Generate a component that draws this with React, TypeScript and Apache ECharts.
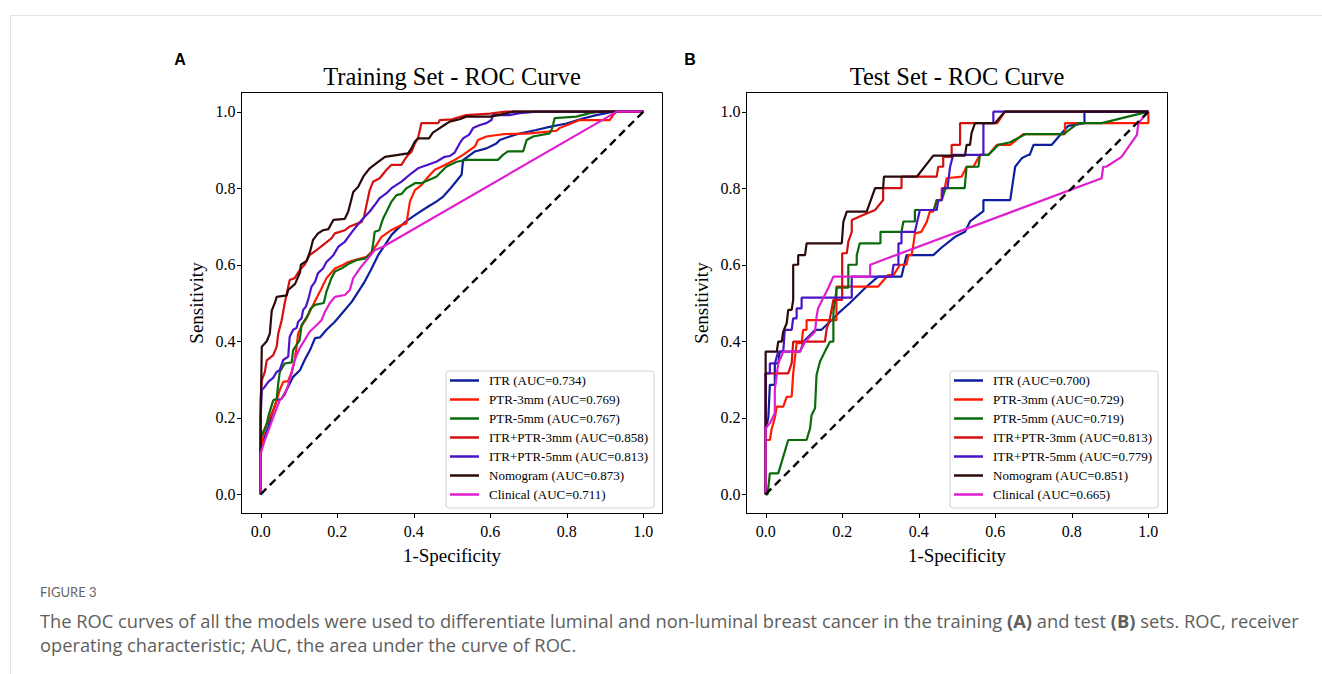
import React, { useEffect, useRef } from "react";
import * as echarts from "echarts";

// ---------- labels ----------
const modelColors = ["#0d1f9e", "#ff1a00", "#0b6b0b", "#d41010", "#4a14c8", "#2b0a0a", "#e01ecf"];
const trainLabels = [
  "ITR (AUC=0.734)",
  "PTR-3mm (AUC=0.769)",
  "PTR-5mm (AUC=0.767)",
  "ITR+PTR-3mm (AUC=0.858)",
  "ITR+PTR-5mm (AUC=0.813)",
  "Nomogram (AUC=0.873)",
  "Clinical (AUC=0.711)",
];
const testLabels = [
  "ITR (AUC=0.700)",
  "PTR-3mm (AUC=0.729)",
  "PTR-5mm (AUC=0.719)",
  "ITR+PTR-3mm (AUC=0.813)",
  "ITR+PTR-5mm (AUC=0.779)",
  "Nomogram (AUC=0.851)",
  "Clinical (AUC=0.665)",
];
const tickValues = [0, 0.2, 0.4, 0.6, 0.8, 1.0];
const diagonal = [[0, 0], [1, 1]];

// ---------- training set ROC points [1-specificity, sensitivity] ----------
const trainITR = [[0,0],[0,0.124],[0.011,0.15],[0.02,0.177],[0.029,0.207],[0.042,0.246],[0.055,0.25],[0.068,0.273],[0.085,0.307],[0.103,0.325],[0.115,0.351],[0.129,0.377],[0.142,0.408],[0.155,0.41],[0.172,0.43],[0.194,0.451],[0.216,0.477],[0.238,0.503],[0.272,0.556],[0.29,0.59],[0.307,0.625],[0.325,0.652],[0.342,0.678],[0.359,0.695],[0.385,0.717],[0.411,0.735],[0.438,0.752],[0.459,0.765],[0.477,0.778],[0.494,0.797],[0.507,0.813],[0.525,0.835],[0.529,0.874],[0.538,0.88],[0.56,0.896],[0.59,0.904],[0.616,0.917],[0.625,0.926],[0.651,0.935],[0.677,0.943],[0.72,0.952],[0.755,0.96],[0.799,0.969],[0.842,0.982],[0.877,0.991],[0.903,0.996],[0.92,1.0],[1,1]];
const trainPTR3 = [[0,0],[0,0.1],[0.005,0.15],[0.016,0.185],[0.024,0.2],[0.033,0.22],[0.042,0.246],[0.05,0.273],[0.059,0.294],[0.072,0.296],[0.081,0.32],[0.089,0.351],[0.094,0.386],[0.098,0.42],[0.107,0.44],[0.12,0.46],[0.137,0.495],[0.159,0.538],[0.172,0.565],[0.194,0.59],[0.216,0.6],[0.229,0.607],[0.246,0.612],[0.277,0.621],[0.29,0.634],[0.303,0.652],[0.316,0.673],[0.329,0.682],[0.342,0.691],[0.368,0.704],[0.381,0.708],[0.39,0.765],[0.403,0.795],[0.42,0.808],[0.438,0.83],[0.455,0.848],[0.472,0.856],[0.49,0.865],[0.507,0.874],[0.529,0.887],[0.56,0.909],[0.568,0.926],[0.59,0.935],[0.633,0.941],[0.703,0.943],[0.773,0.95],[0.781,0.957],[0.834,0.978],[0.912,0.978],[0.921,0.991],[0.93,1.0],[1,1]];
const trainPTR5 = [[0,0],[0,0.15],[0.01,0.17],[0.016,0.185],[0.02,0.203],[0.025,0.22],[0.033,0.246],[0.042,0.25],[0.046,0.29],[0.05,0.32],[0.063,0.342],[0.081,0.345],[0.085,0.377],[0.102,0.403],[0.107,0.442],[0.115,0.455],[0.124,0.469],[0.13,0.485],[0.142,0.495],[0.165,0.5],[0.172,0.53],[0.185,0.565],[0.194,0.582],[0.211,0.59],[0.233,0.604],[0.25,0.612],[0.272,0.616],[0.29,0.63],[0.294,0.656],[0.298,0.686],[0.31,0.69],[0.32,0.721],[0.333,0.747],[0.342,0.765],[0.355,0.782],[0.368,0.785],[0.381,0.8],[0.39,0.805],[0.403,0.813],[0.42,0.813],[0.438,0.821],[0.459,0.83],[0.472,0.843],[0.485,0.856],[0.512,0.869],[0.538,0.874],[0.62,0.874],[0.633,0.887],[0.646,0.896],[0.686,0.896],[0.695,0.926],[0.712,0.935],[0.755,0.943],[0.76,0.952],[0.764,0.965],[0.768,0.983],[0.825,0.987],[0.86,0.996],[0.886,1.0],[1,1]];
const trainITRPTR3 = [[0,0],[0,0.25],[0.003,0.298],[0.011,0.32],[0.016,0.35],[0.033,0.364],[0.042,0.386],[0.046,0.42],[0.055,0.455],[0.063,0.5],[0.076,0.56],[0.089,0.565],[0.102,0.586],[0.115,0.6],[0.128,0.625],[0.146,0.638],[0.185,0.669],[0.194,0.682],[0.22,0.69],[0.233,0.7],[0.264,0.712],[0.27,0.725],[0.285,0.795],[0.294,0.817],[0.311,0.826],[0.329,0.848],[0.342,0.861],[0.368,0.861],[0.376,0.874],[0.385,0.887],[0.394,0.895],[0.403,0.917],[0.411,0.93],[0.416,0.952],[0.42,0.97],[0.464,0.97],[0.468,0.978],[0.5,0.98],[0.537,0.991],[0.6,0.995],[0.64,1.0],[1,1]];
const trainITRPTR5 = [[0,0],[0,0.2],[0.003,0.273],[0.01,0.28],[0.02,0.294],[0.033,0.305],[0.042,0.32],[0.05,0.325],[0.059,0.351],[0.072,0.36],[0.076,0.412],[0.085,0.43],[0.094,0.435],[0.098,0.451],[0.107,0.46],[0.111,0.482],[0.118,0.49],[0.124,0.508],[0.133,0.543],[0.142,0.555],[0.15,0.578],[0.163,0.59],[0.172,0.607],[0.19,0.625],[0.203,0.647],[0.22,0.66],[0.233,0.678],[0.246,0.695],[0.264,0.717],[0.285,0.739],[0.298,0.756],[0.311,0.774],[0.329,0.787],[0.342,0.8],[0.368,0.817],[0.394,0.839],[0.411,0.852],[0.437,0.861],[0.459,0.869],[0.481,0.882],[0.494,0.884],[0.507,0.893],[0.52,0.917],[0.529,0.93],[0.545,0.94],[0.555,0.957],[0.573,0.965],[0.59,0.97],[0.603,0.978],[0.607,0.991],[0.65,0.991],[0.677,0.996],[0.72,1.0],[1,1]];
const trainNomogram = [[0,0],[0,0.2],[0.002,0.32],[0.003,0.386],[0.016,0.4],[0.024,0.42],[0.029,0.48],[0.037,0.5],[0.042,0.516],[0.068,0.52],[0.072,0.534],[0.09,0.55],[0.103,0.58],[0.105,0.6],[0.12,0.61],[0.129,0.634],[0.137,0.665],[0.15,0.682],[0.163,0.69],[0.177,0.693],[0.19,0.717],[0.22,0.72],[0.229,0.739],[0.242,0.79],[0.255,0.804],[0.268,0.83],[0.285,0.852],[0.307,0.869],[0.325,0.882],[0.359,0.887],[0.385,0.891],[0.394,0.904],[0.403,0.922],[0.411,0.93],[0.44,0.93],[0.45,0.945],[0.465,0.955],[0.48,0.965],[0.494,0.974],[0.52,0.98],[0.537,0.987],[0.6,0.987],[0.64,0.995],[0.66,1.0],[1,1]];
const trainClinical = [[0,0],[0,0.107],[0.011,0.142],[0.024,0.177],[0.037,0.212],[0.05,0.246],[0.063,0.26],[0.072,0.286],[0.081,0.316],[0.089,0.351],[0.102,0.382],[0.115,0.403],[0.128,0.425],[0.146,0.442],[0.159,0.455],[0.168,0.477],[0.181,0.5],[0.194,0.516],[0.22,0.521],[0.233,0.534],[0.242,0.565],[0.259,0.59],[0.277,0.612],[0.298,0.638],[0.32,0.647],[0.905,0.985],[0.93,1.0],[1,1]];

// ---------- test set ROC points ----------
const testITR = [[0,0],[0,0.17],[0.007,0.2],[0.011,0.286],[0.024,0.286],[0.024,0.342],[0.033,0.342],[0.037,0.373],[0.09,0.373],[0.1,0.4],[0.13,0.43],[0.146,0.43],[0.172,0.455],[0.194,0.477],[0.22,0.5],[0.264,0.543],[0.294,0.569],[0.355,0.569],[0.368,0.625],[0.438,0.625],[0.46,0.645],[0.495,0.673],[0.521,0.686],[0.534,0.713],[0.569,0.74],[0.569,0.769],[0.639,0.769],[0.652,0.856],[0.669,0.878],[0.686,0.887],[0.69,0.887],[0.7,0.913],[0.747,0.913],[0.774,0.944],[0.791,0.963],[0.833,0.97],[0.833,1.0],[1,1]];
const testPTR3 = [[0,0],[0,0.142],[0.011,0.142],[0.016,0.172],[0.024,0.2],[0.029,0.229],[0.046,0.229],[0.055,0.255],[0.068,0.255],[0.072,0.316],[0.077,0.36],[0.081,0.395],[0.094,0.395],[0.098,0.43],[0.107,0.43],[0.107,0.455],[0.185,0.455],[0.185,0.543],[0.294,0.543],[0.32,0.573],[0.334,0.573],[0.351,0.6],[0.368,0.6],[0.373,0.625],[0.381,0.625],[0.386,0.652],[0.39,0.682],[0.407,0.686],[0.421,0.712],[0.429,0.739],[0.438,0.739],[0.447,0.769],[0.46,0.769],[0.46,0.8],[0.468,0.8],[0.473,0.826],[0.512,0.83],[0.525,0.856],[0.543,0.856],[0.56,0.887],[0.582,0.887],[0.604,0.913],[0.639,0.913],[0.673,0.941],[0.782,0.941],[0.782,0.97],[1.0,0.97],[1,1]];
const testPTR5 = [[0,0],[0.005,0],[0.011,0.055],[0.033,0.055],[0.059,0.142],[0.107,0.142],[0.116,0.172],[0.12,0.207],[0.129,0.225],[0.133,0.312],[0.142,0.347],[0.155,0.373],[0.168,0.399],[0.177,0.399],[0.177,0.477],[0.186,0.54],[0.216,0.54],[0.216,0.6],[0.238,0.6],[0.238,0.625],[0.246,0.656],[0.3,0.656],[0.3,0.686],[0.355,0.686],[0.36,0.713],[0.39,0.713],[0.39,0.743],[0.44,0.743],[0.447,0.769],[0.46,0.769],[0.47,0.8],[0.52,0.8],[0.525,0.856],[0.556,0.856],[0.56,0.887],[0.582,0.887],[0.608,0.913],[0.639,0.92],[0.678,0.941],[0.778,0.941],[0.817,0.97],[0.878,0.97],[1,1]];
const testITRPTR3 = [[0,0],[0,0.316],[0.059,0.316],[0.068,0.342],[0.072,0.399],[0.155,0.399],[0.159,0.43],[0.168,0.46],[0.177,0.508],[0.2,0.508],[0.2,0.63],[0.212,0.63],[0.216,0.66],[0.225,0.686],[0.225,0.717],[0.255,0.73],[0.286,0.743],[0.307,0.769],[0.307,0.8],[0.355,0.8],[0.355,0.83],[0.447,0.83],[0.451,0.856],[0.464,0.856],[0.464,0.882],[0.486,0.882],[0.486,0.913],[0.508,0.913],[0.508,0.97],[0.605,0.97],[0.625,1.0],[1,1]];
const testITRPTR5 = [[0,0],[0,0.316],[0.011,0.316],[0.011,0.342],[0.024,0.342],[0.033,0.373],[0.046,0.373],[0.05,0.43],[0.068,0.43],[0.072,0.46],[0.081,0.46],[0.081,0.486],[0.094,0.486],[0.094,0.514],[0.225,0.514],[0.225,0.569],[0.33,0.569],[0.334,0.6],[0.347,0.6],[0.347,0.656],[0.355,0.656],[0.355,0.686],[0.39,0.686],[0.403,0.743],[0.447,0.743],[0.451,0.769],[0.46,0.769],[0.464,0.8],[0.475,0.8],[0.482,0.856],[0.49,0.887],[0.569,0.887],[0.569,0.97],[0.595,0.97],[0.595,1.0],[1,1]];
const testNomogram = [[0,0],[0,0.373],[0.029,0.373],[0.033,0.399],[0.042,0.399],[0.046,0.425],[0.055,0.447],[0.059,0.482],[0.068,0.482],[0.072,0.508],[0.072,0.6],[0.085,0.6],[0.085,0.625],[0.103,0.625],[0.107,0.656],[0.199,0.656],[0.203,0.712],[0.212,0.739],[0.264,0.739],[0.286,0.8],[0.307,0.8],[0.309,0.83],[0.395,0.83],[0.438,0.885],[0.521,0.885],[0.525,0.913],[0.534,0.913],[0.538,0.944],[0.547,0.97],[0.599,0.97],[0.625,1.0],[1,1]];
const testClinical = [[0,0],[0,0.172],[0.011,0.186],[0.024,0.212],[0.024,0.273],[0.029,0.312],[0.033,0.342],[0.046,0.373],[0.09,0.373],[0.103,0.399],[0.129,0.425],[0.133,0.464],[0.137,0.486],[0.164,0.54],[0.177,0.569],[0.273,0.569],[0.273,0.6],[0.878,0.826],[0.882,0.856],[0.89,0.856],[0.93,0.882],[0.97,0.939],[0.974,0.97],[1,1]];

const trainCurves = [trainITR, trainPTR3, trainPTR5, trainITRPTR3, trainITRPTR5, trainNomogram, trainClinical];
const testCurves = [testITR, testPTR3, testPTR5, testITRPTR3, testITRPTR5, testNomogram, testClinical];

const SERIF = "'Liberation Serif', 'Times New Roman', serif";
const SANS = "'Open Sans', Lato, sans-serif";
const AXIS_MIN = -0.05;
const AXIS_MAX = 1.05;

function makeAxis(gridIndex: number, margin: number) {
  return {
    type: "value",
    gridIndex,
    min: AXIS_MIN,
    max: AXIS_MAX,
    axisLine: { show: true, onZero: false, lineStyle: { color: "#000", width: 1 } },
    axisTick: { show: false },
    axisLabel: {
      customValues: tickValues,
      formatter: (v: number) => v.toFixed(1),
      color: "#000",
      fontFamily: SERIF,
      fontSize: 16,
      margin,
    },
    splitLine: { show: false },
  };
}

// tick marks drawn through the axes' own scales
function makeTickSeries(idx: number) {
  return {
    type: "custom",
    name: "ticks" + idx,
    xAxisIndex: idx,
    yAxisIndex: idx,
    clip: false,
    silent: true,
    z: 5,
    data: tickValues.map((v) => [v]),
    renderItem: (params: any, api: any) => {
      const v = api.value(0);
      const px = api.coord([v, AXIS_MIN]);
      const py = api.coord([AXIS_MIN, v]);
      return {
        type: "group",
        children: [
          {
            type: "line",
            shape: { x1: Math.round(px[0]) + 0.5, y1: px[1], x2: Math.round(px[0]) + 0.5, y2: px[1] + 4.5 },
            style: { stroke: "#000", lineWidth: 1 },
          },
          {
            type: "line",
            shape: { x1: py[0], y1: Math.round(py[1]) + 0.5, x2: py[0] - 4.5, y2: Math.round(py[1]) + 0.5 },
            style: { stroke: "#000", lineWidth: 1 },
          },
        ],
      };
    },
  };
}

function makeSeries(curves: number[][][], labels: string[], idx: number) {
  const s: any[] = curves.map((data, i) => ({
    name: labels[i],
    type: "line",
    xAxisIndex: idx,
    yAxisIndex: idx,
    data,
    showSymbol: false,
    symbol: "none",
    lineStyle: { color: modelColors[i], width: 2.2 },
    itemStyle: { color: modelColors[i] },
    z: 2,
  }));
  s.push({
    name: "diag" + idx,
    type: "line",
    xAxisIndex: idx,
    yAxisIndex: idx,
    data: diagonal,
    showSymbol: false,
    symbol: "none",
    lineStyle: { color: "#000", width: 2.4, type: [8, 5] },
    z: 3,
  });
  s.push(makeTickSeries(idx));
  return s;
}

function makeLegend(labels: string[], left: number) {
  return {
    data: labels,
    orient: "vertical",
    left,
    top: 371,
    icon: "rect",
    itemWidth: 29,
    itemHeight: 2.5,
    itemGap: 0,
    padding: [0, 6, 4, 4],
    backgroundColor: "#fff",
    borderColor: "#d0d0d0",
    borderWidth: 1,
    borderRadius: 3,
    selectedMode: false,
    textStyle: { fontFamily: SERIF, fontSize: 13, color: "#000", lineHeight: 19, padding: [0, 0, 0, 5] },
  };
}

export default function App() {
  const ref = useRef<HTMLDivElement>(null);
  useEffect(() => {
    if (!ref.current) return;
    const chart = echarts.init(ref.current, null, { renderer: "svg" });
    const panels = [
      { cx: 452, title: "Training Set - ROC Curve", letter: "A", lx: 180 },
      { cx: 957, title: "Test Set - ROC Curve", letter: "B", lx: 690 },
    ];
    const graphics: any[] = [
      {
        type: "rect",
        shape: { x: 10.5, y: 15.5, width: 1400, height: 700 },
        style: { fill: "none", stroke: "#e3e3e3", lineWidth: 1 },
        silent: true,
      },
    ];
    panels.forEach((p) => {
      graphics.push({
        type: "text",
        x: p.cx,
        y: 76,
        style: { text: p.title, fontFamily: SERIF, fontSize: 24.5, fill: "#000", align: "center", verticalAlign: "middle" },
      });
      graphics.push({
        type: "text",
        x: p.lx,
        y: 59,
        style: { text: p.letter, fontFamily: "'Liberation Sans', Arial, sans-serif", fontWeight: "bold", fontSize: 16, fill: "#000", align: "center", verticalAlign: "middle" },
      });
      graphics.push({
        type: "text",
        x: p.cx,
        y: 555,
        style: { text: "1-Specificity", fontFamily: SERIF, fontSize: 19, fill: "#000", align: "center", verticalAlign: "middle" },
      });
      graphics.push({
        type: "text",
        x: p.cx - 256,
        y: 303,
        rotation: Math.PI / 2,
        style: { text: "Sensitivity", fontFamily: SERIF, fontSize: 19, fill: "#000", align: "center", verticalAlign: "middle" },
      });
    });
    graphics.push({
      type: "text",
      x: 40,
      y: 592,
      style: { text: "FIGURE 3", fontFamily: "Lato, sans-serif", fontSize: 13, fill: "#666", verticalAlign: "middle" },
    });
    graphics.push({
      type: "text",
      x: 40,
      y: 620,
      style: {
        text: "The ROC curves of all the models were used to differentiate luminal and non-luminal breast cancer in the training {b|(A)} and test {b|(B)} sets. ROC, receiver",
        fontFamily: SANS,
        fontSize: 18.3,
        fill: "#5e5e5e",
        verticalAlign: "middle",
        rich: { b: { fontFamily: SANS, fontSize: 18.3, fontWeight: "bold", fill: "#5e5e5e" } },
      },
    });
    graphics.push({
      type: "text",
      x: 40,
      y: 644,
      style: {
        text: "operating characteristic; AUC, the area under the curve of ROC.",
        fontFamily: SANS,
        fontSize: 18.3,
        fill: "#5e5e5e",
        verticalAlign: "middle",
      },
    });

    const option: any = {
      animation: false,
      backgroundColor: "#fff",
      grid: [
        { left: 241.5, top: 92.5, width: 421, height: 421, show: true, borderColor: "#000", borderWidth: 1, backgroundColor: "transparent" },
        { left: 746.5, top: 92.5, width: 421, height: 421, show: true, borderColor: "#000", borderWidth: 1, backgroundColor: "transparent" },
      ],
      xAxis: [makeAxis(0, 10), makeAxis(1, 10)],
      yAxis: [makeAxis(0, 6), makeAxis(1, 6)],
      legend: [makeLegend(trainLabels, 446), makeLegend(testLabels, 950)],
      series: [...makeSeries(trainCurves, trainLabels, 0), ...makeSeries(testCurves, testLabels, 1)],
      graphic: graphics,
    };
    chart.setOption(option);
    return () => chart.dispose();
  }, []);
  return (
    <div
      ref={ref}
      style={{ position: "absolute", left: 0, top: 0, width: 1322, height: 674, background: "#fff" }}
    />
  );
}
